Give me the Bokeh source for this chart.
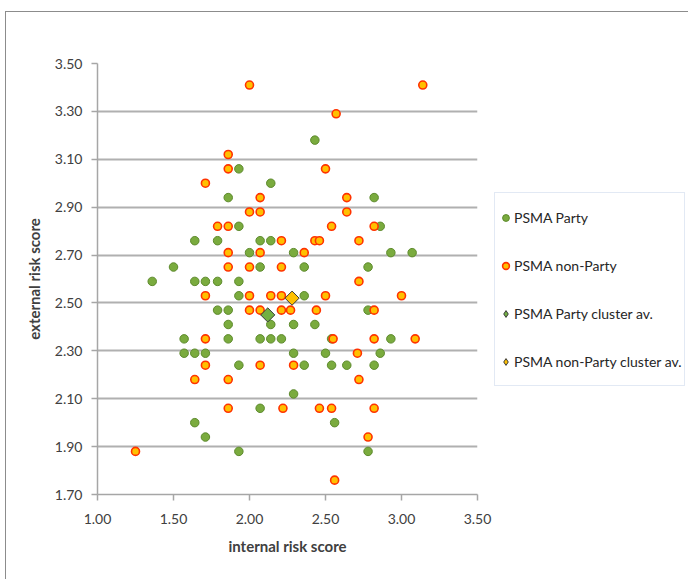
from bokeh.plotting import figure
from bokeh.layouts import row
from bokeh.models import Range1d, FixedTicker, NumeralTickFormatter, Legend, LegendItem
from bokeh.embed import file_html
from bokeh.resources import INLINE
import math

# ---- data ----
party_x = [1.93, 2.14, 1.86, 2.43, 2.82, 1.93, 2.86, 1.64, 1.79, 2.07, 2.14, 2.00, 2.29, 2.93, 3.07,
           1.50, 2.07, 2.36, 2.78, 1.36, 1.64, 1.71, 1.79, 1.93, 1.93, 2.36, 1.79, 1.86, 2.78, 1.86,
           2.14, 2.29, 2.43, 1.57, 1.86, 2.07, 2.14, 2.21, 2.54, 2.93, 1.57, 1.64, 1.71, 2.29, 2.50,
           2.86, 1.93, 2.36, 2.54, 2.64, 2.82, 2.29, 2.07, 1.64, 2.56, 1.71, 1.93, 2.78]
party_y = [3.06, 3.00, 2.94, 3.18, 2.94, 2.82, 2.82, 2.76, 2.76, 2.76, 2.76, 2.71, 2.71, 2.71, 2.71,
           2.65, 2.65, 2.65, 2.65, 2.59, 2.59, 2.59, 2.59, 2.59, 2.53, 2.53, 2.47, 2.47, 2.47, 2.41,
           2.41, 2.41, 2.41, 2.35, 2.35, 2.35, 2.35, 2.35, 2.35, 2.35, 2.29, 2.29, 2.29, 2.29, 2.29,
           2.29, 2.24, 2.24, 2.24, 2.24, 2.24, 2.12, 2.06, 2.00, 2.00, 1.94, 1.88, 1.88]

nonparty_x = [2.00, 3.14, 2.57, 1.86, 1.86, 2.50, 1.71, 2.07, 2.64, 2.00, 2.07, 2.64, 1.79, 1.86, 2.54,
              2.82, 2.21, 2.43, 2.46, 2.72, 1.86, 2.07, 2.36, 1.86, 2.00, 2.21, 2.72, 1.71, 2.00, 2.14,
              2.21, 2.50, 3.00, 2.00, 2.07, 2.21, 2.27, 2.44, 2.82, 1.71, 2.55, 2.82, 3.09, 2.71, 1.71,
              2.07, 2.29, 1.64, 1.86, 2.72, 1.86, 2.22, 2.46, 2.54, 2.82, 2.78, 1.25, 2.56]
nonparty_y = [3.41, 3.41, 3.29, 3.12, 3.06, 3.06, 3.00, 2.94, 2.94, 2.88, 2.88, 2.88, 2.82, 2.82, 2.82,
              2.82, 2.76, 2.76, 2.76, 2.76, 2.71, 2.71, 2.71, 2.65, 2.65, 2.65, 2.59, 2.53, 2.53, 2.53,
              2.53, 2.53, 2.53, 2.47, 2.47, 2.47, 2.47, 2.47, 2.47, 2.35, 2.35, 2.35, 2.35, 2.29, 2.24,
              2.24, 2.24, 2.18, 2.18, 2.18, 2.06, 2.06, 2.06, 2.06, 2.06, 1.94, 1.88, 1.76]

party_avg_x = [2.12]
party_avg_y = [2.45]
nonparty_avg_x = [2.28]
nonparty_avg_y = [2.52]

x_ticks = [1.0, 1.5, 2.0, 2.5, 3.0, 3.5]
y_ticks = [1.7, 1.9, 2.1, 2.3, 2.5, 2.7, 2.9, 3.1, 3.3, 3.5]

labels = ["PSMA Party", "PSMA non-Party", "PSMA Party cluster av.", "PSMA non-Party cluster av."]

FONT = "Lato"
TXT = "#404040"

GREEN_FILL, GREEN_LINE = "#7aab3e", "#5d8a2c"
ORANGE_FILL, ORANGE_LINE = "#ffc000", "#ff3300"
DIAMOND_GREEN, DIAMOND_LINE = "#72b043", "#3a3a3a"

# ---------------- main scatter figure ----------------
p = figure(width=487, height=567, output_backend="svg", toolbar_location=None,
           x_range=Range1d(1.0, 3.5), y_range=Range1d(1.7, 3.5),
           min_border_left=91, min_border_right=16, min_border_top=51, min_border_bottom=85)
p.outline_line_color = None
p.background_fill_color = "white"
p.border_fill_color = "white"

for ax, ticks in ((p.xaxis[0], x_ticks), (p.yaxis[0], y_ticks)):
    ax.ticker = FixedTicker(ticks=ticks)
    ax.formatter = NumeralTickFormatter(format="0.00")
    ax.major_label_text_font = FONT
    ax.major_label_text_font_size = "14px"
    ax.major_label_text_color = TXT
    ax.axis_line_color = "#a6a6a6"
    ax.axis_line_width = 1.5
    ax.major_tick_line_color = "#a6a6a6"
    ax.major_tick_line_width = 1.5
    ax.major_tick_out = 6
    ax.major_tick_in = 0
    ax.minor_tick_line_color = None
    ax.axis_label_text_font = FONT
    ax.axis_label_text_font_size = "15px"
    ax.axis_label_text_font_style = "bold"
    ax.axis_label_text_color = TXT

p.xaxis.axis_label = "internal risk score"
p.yaxis.axis_label = "external risk score"
p.xaxis.major_label_standoff = 13
p.yaxis.major_label_standoff = 9
p.xaxis.axis_label_standoff = 10
p.yaxis.axis_label_standoff = 9

p.xgrid.grid_line_color = None
p.ygrid.grid_line_color = "#b0b0b0"
p.ygrid.grid_line_width = 2

p.scatter(party_x, party_y, marker="circle", size=8.5,
          fill_color=GREEN_FILL, line_color=GREEN_LINE, line_width=1)
p.scatter(nonparty_x, nonparty_y, marker="circle", size=8,
          fill_color=ORANGE_FILL, line_color=ORANGE_LINE, line_width=1.6)
p.scatter(party_avg_x, party_avg_y, marker="square", angle=math.pi / 4, size=10,
          fill_color=DIAMOND_GREEN, line_color=DIAMOND_LINE, line_width=1)
p.scatter(nonparty_avg_x, nonparty_avg_y, marker="square", angle=math.pi / 4, size=10,
          fill_color=ORANGE_FILL, line_color=DIAMOND_LINE, line_width=1)

# ---------------- legend figure (right) ----------------
# the same series are plotted here outside the visible range; only the legend shows
q = figure(width=195, height=567, output_backend="svg", toolbar_location=None,
           x_range=Range1d(0, 1), y_range=Range1d(0, 1),
           x_axis_location=None, y_axis_location=None, min_border=0)
q.grid.visible = False
q.outline_line_color = None
q.background_fill_color = "white"
q.border_fill_color = "white"

l1 = q.scatter(party_x, party_y, marker="circle",
               fill_color=GREEN_FILL, line_color=GREEN_LINE, line_width=1)
l2 = q.scatter(nonparty_x, nonparty_y, marker="circle",
               fill_color=ORANGE_FILL, line_color=ORANGE_LINE, line_width=1.6)
l3 = q.scatter(party_avg_x, party_avg_y, marker="diamond",
               fill_color=DIAMOND_GREEN, line_color=DIAMOND_LINE, line_width=1)
l4 = q.scatter(nonparty_avg_x, nonparty_avg_y, marker="diamond",
               fill_color=ORANGE_FILL, line_color=DIAMOND_LINE, line_width=1)

legend = Legend(items=[LegendItem(label=labels[0], renderers=[l1]),
                       LegendItem(label=labels[1], renderers=[l2]),
                       LegendItem(label=labels[2], renderers=[l3]),
                       LegendItem(label=labels[3], renderers=[l4])],
                location=(1, 108), orientation="vertical",
                padding=2, spacing=4, glyph_width=17, glyph_height=17,
                label_height=44, label_standoff=0,
                label_text_font=FONT, label_text_font_size="14px", label_text_color="#262626",
                border_line_color="#c5d3ea", border_line_width=1.5,
                background_fill_color="white", background_fill_alpha=1.0,
                margin=0)
q.add_layout(legend, "center")

layout = row(p, q, spacing=0)
layout.margin = (11, 0, 0, 5)
layout.styles = {"border-left": "1px solid #8c8c8c", "border-top": "1px solid #8c8c8c"}

open("out.html", "w").write(file_html(layout, INLINE))
